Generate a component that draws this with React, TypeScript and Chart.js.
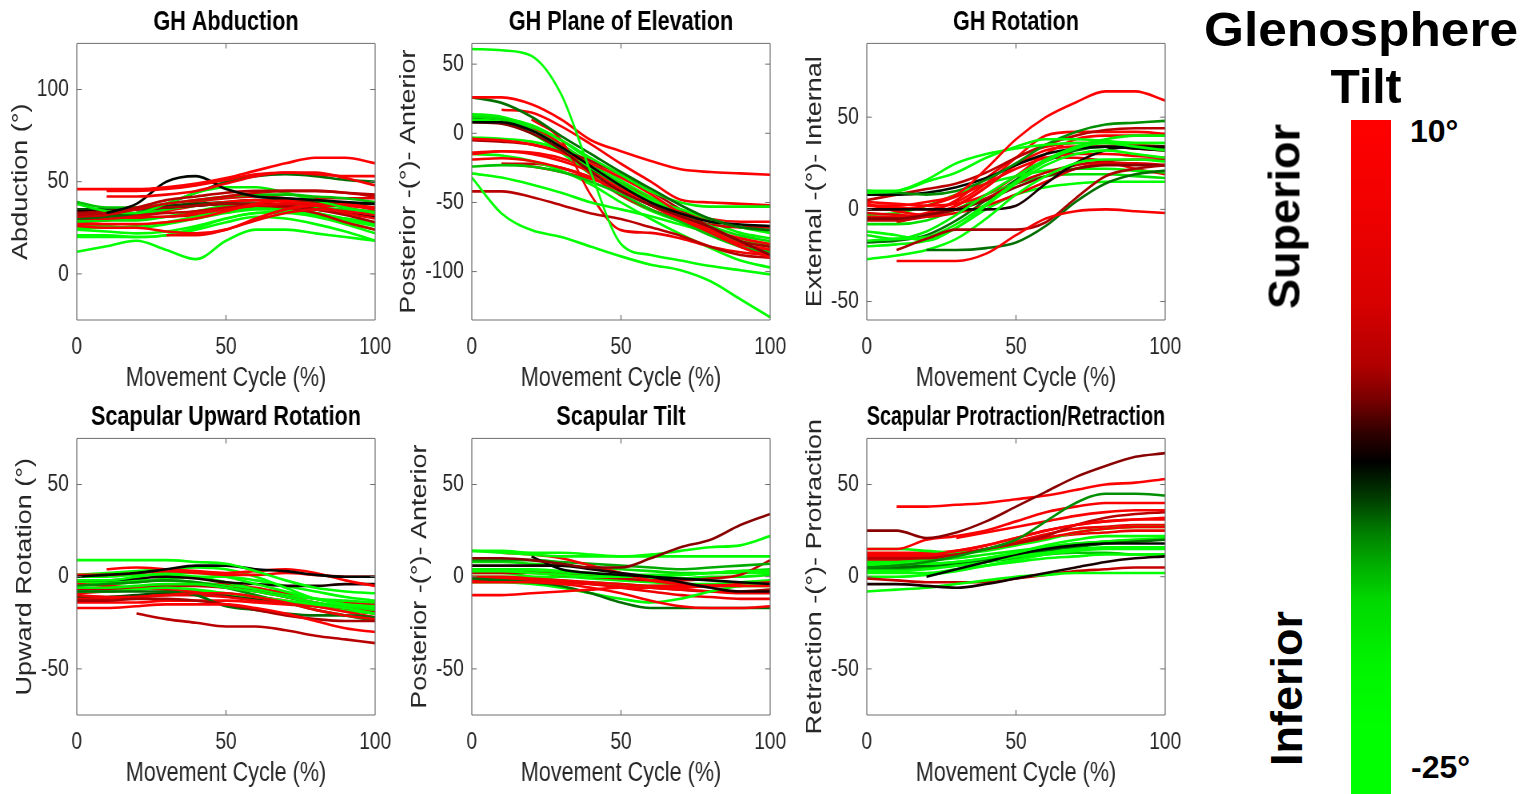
import { useEffect, useRef } from "react";
import { Chart, registerables } from "chart.js";

Chart.register(...registerables);

const FONT = '"Liberation Sans", Arial, Helvetica, sans-serif';

// ---------- shared data ----------
const cyclePct = [0, 10, 20, 30, 40, 50, 60, 70, 80, 90, 100];
const xTickValues = [0, 50, 100];
const xAxisLabel = "Movement Cycle (%)";

// Glenosphere tilt colour scale (10° at top, -25° at bottom)
const tiltMax = 10;
const tiltMin = -25;
const cmapPos = [0, 0.12, 0.27, 0.365, 0.415, 0.464, 0.507, 0.564, 0.613, 0.663, 0.712, 0.81, 0.9, 1];
const cmapColors = ["#ff0000", "#f20000", "#d80000", "#b00000", "#780000", "#300000", "#000000", "#004000", "#008000", "#00b000", "#00d800", "#00f500", "#00ff00", "#00ff00"];

// ---------- GH Abduction ----------
const abdTicks = [0, 50, 100];
const abdTilt = [10, 8, 6, -8, -2, 0, -14, -18, -24, -11, 9, 7, 5, 4, -3, -1, -22, -24, -21, -19, -17, -7, -16, 10, -10, 3, -20, 2];
const abdValues: (number | null)[][] = [
  [46, 46, 46, 47, 49, 52, 56, 60, 63, 63, 60],
  [null, 45, 45, 46, 48, 51, 54, 55, 54, 53, 53],
  [null, 42, 42, 43, 45, 49, 53, 55, 55, 52, 48],
  [null, 33, 38, 50, 53, 46, 42, 41, 40, 39, 38],
  [32, 33, 36, 40, 42, 44, 45, 45, 45, 44, 43],
  [31, 32, 35, 38, 40, 42, 44, 45, 45, 44, 42],
  [39, 36, 36, 38, 40, 42, 43, 43, 42, 41, 39],
  [38, 34, 33, 38, 44, 47, 47, 44, 40, 36, 33],
  [12, 15, 18, 13, 8, 18, 24, 24, 22, 20, 18],
  [30, 31, 33, 38, 44, 50, 53, 54, 53, 51, 50],
  [27, 27, 27, 28, 30, 34, 38, 40, 40, 38, 36],
  [26, 25, 25, 23, 22, 24, 30, 35, 37, 37, 35],
  [null, null, null, 21, 21, 24, 29, 33, 35, 34, 32],
  [30, 30, 31, 31, 33, 35, 37, 38, 37, 33, 30],
  [33, 34, 35, 36, 37, 38, 38, 37, 35, 32, 28],
  [32, 32, 32, 33, 34, 36, 37, 36, 33, 28, 24],
  [21, 21, 20, 21, 25, 30, 33, 34, 32, 29, 26],
  [20, 20, 20, 21, 24, 28, 31, 30, 27, 23, 18],
  [24, 23, 22, 23, 26, 30, 33, 33, 31, 27, 22],
  [27, 26, 25, 27, 30, 33, 35, 35, 33, 30, 27],
  [28, 29, 29, 31, 34, 37, 38, 36, 33, 30, 28],
  [34, 34, 35, 36, 37, 38, 38, 37, 35, 33, 31],
  [29, 30, 32, 35, 37, 38, 38, 37, 36, 35, 34],
  [28, 29, 31, 34, 37, 39, 40, 39, 38, 37, 36],
  [35, 35, 36, 37, 38, 39, 40, 40, 39, 38, 38],
  [31, 31, 33, 36, 39, 41, 42, 41, 39, 36, 33],
  [25, 25, 26, 28, 31, 34, 36, 35, 32, 28, 24],
  [29, 30, 30, 31, 32, 35, 38, 40, 41, 41, 41],
];

// ---------- GH Plane of Elevation ----------
const poeTicks = [-100, -50, 0, 50];
const poeTilt = [-22, -25, 10, -11, -18, 7, -8, -4, 9, -20, -3, 8, 6, -14, -23, -2, 5, 4, -16, -21, -10, 10, -24, 0, 8, -19];
const poeValues: (number | null)[][] = [
  [61, 60, 56, 28, -29, -80, -88, -92, -96, -99, -102],
  [-32, -58, -70, -75, -82, -89, -95, -99, -107, -120, -133],
  [26, 26, 21, 10, -5, -13, -20, -26, -28, -29, -30],
  [26, 22, 12, -2, -15, -28, -40, -52, -62, -68, -70],
  [14, 12, 5, -5, -18, -30, -42, -50, -53, -53, -53],
  [null, 17, 15, 5, -8, -22, -35, -48, -50, -51, -52],
  [8, 8, 2, -10, -24, -38, -50, -58, -64, -66, -67],
  [8, 7, 0, -12, -28, -42, -52, -60, -68, -78, -88],
  [-4, -5, -8, -14, -22, -32, -44, -58, -70, -80, -84],
  [-3, -4, -6, -12, -25, -38, -48, -55, -62, -68, -72],
  [-5, -6, -8, -13, -20, -30, -42, -55, -68, -78, -82],
  [-14, -13, -15, -20, -28, -40, -52, -62, -70, -76, -80],
  [-19, -18, -20, -25, -32, -42, -52, -62, -72, -82, -90],
  [-24, -23, -24, -28, -35, -44, -55, -64, -74, -82, -86],
  [-29, -32, -37, -43, -50, -55, -60, -66, -72, -78, -80],
  [-42, -42, -46, -52, -58, -62, -68, -74, -82, -88, -90],
  [null, null, 10, -5, -45, -70, -72, -76, -82, -86, -88],
  [null, null, 5, -8, -30, -45, -55, -63, -72, -80, -84],
  [12, 10, 4, -8, -22, -36, -48, -58, -67, -74, -78],
  [10, 8, 0, -14, -30, -45, -56, -64, -72, -78, -82],
  [11, 10, 3, -10, -26, -40, -52, -62, -72, -80, -85],
  [-15, -13, -14, -18, -26, -36, -48, -60, -72, -82, -88],
  [-15, -16, -20, -27, -37, -50, -62, -73, -83, -92, -97],
  [null, -22, -22, -25, -32, -42, -52, -60, -66, -68, -68],
  [null, -22, -24, -28, -33, -40, -48, -56, -62, -64, -64],
  [13, 11, 6, -5, -20, -34, -46, -56, -64, -72, -76],
];

// ---------- GH Rotation ----------
const rotTicks = [-50, 0, 50];
const rotTilt = [10, 8, -11, -3, -24, -22, -20, -18, -23, -21, -12, -8, -7, -2, -4, 9, 7, 6, 5, 10, 3, -1, -16, -19, -25, -11, 4];
const rotValues: (number | null)[][] = [
  [2, 2, 4, 8, 22, 38, 50, 58, 64, 64, 59],
  [null, -28, -28, -28, -24, -14, -5, -1, 0, -1, -2],
  [null, null, -22, -22, -21, -18, -9, 4, 14, 19, 21],
  [null, -22, -16, -11, -11, -11, -7, 6, 18, 22, 24],
  [-27, -25, -22, -16, -5, 8, 18, 25, 27, 27, 26],
  [-20, -19, -17, -10, 2, 14, 24, 30, 32, 30, 28],
  [-17, -16, -15, -8, 3, 15, 26, 33, 36, 34, 32],
  [-14, -16, -12, -3, 8, 18, 27, 34, 38, 40, 40],
  [9, 10, 16, 25, 30, 33, 35, 36, 36, 36, 36],
  [10, 10, 15, 20, 28, 34, 38, 38, 37, 36, 36],
  [10, 9, 8, 10, 16, 25, 35, 42, 46, 47, 48],
  [8, 8, 9, 12, 17, 24, 30, 33, 34, 33, 32],
  [0, 0, 0, 0, 0, 2, 14, 25, 32, 34, 34],
  [5, 8, 11, 14, 20, 28, 35, 40, 43, 44, 44],
  [-5, -5, -3, 0, 5, 12, 18, 22, 24, 24, 24],
  [4, 3, 2, 3, 8, 18, 30, 38, 40, 40, 40],
  [3, -1, -3, 2, 12, 24, 32, 34, 34, 33, 32],
  [0, 0, 2, 7, 14, 22, 28, 30, 30, 29, 28],
  [-4, -4, -2, 5, 17, 28, 34, 36, 36, 35, 34],
  [2, 1, 0, 4, 14, 28, 40, 42, 42, 42, 41],
  [-2, -3, -4, -2, 2, 8, 15, 22, 25, 25, 24],
  [-6, -6, -4, 0, 6, 14, 20, 24, 26, 27, 27],
  [-8, -8, -6, 0, 8, 14, 18, 19, 19, 18, 17],
  [-3, -2, 2, 8, 14, 18, 21, 22, 22, 21, 20],
  [-12, -14, -17, -10, 0, 8, 12, 14, 15, 15, 15],
  [-18, -17, -14, -6, 5, 16, 26, 32, 34, 34, 33],
  [null, -7, -3, 2, 12, 24, 28, 28, 26, 22, 19],
];

// ---------- Scapular Upward Rotation ----------
const uprTicks = [-50, 0, 50];
const uprTilt = [-25, -8, 10, 8, -2, 9, -3, 6, -11, -22, -20, -18, -23, -12, 7, 5, -7, -2, -24, -19, 10, -10, 3, -21];
const uprValues: (number | null)[][] = [
  [9, 9, 9, 9, 8, 7, 3, -2, -6, -8, -9],
  [0, 1, 2, 4, 6, 6, 4, 3, 1, 0, 0],
  [null, 4, 5, 4, 3, 2, 3, 4, 2, -2, -5],
  [1, 1, 2, 3, 2, 1, 1, 2, 1, 0, 0],
  [null, null, -20, -23, -25, -27, -27, -29, -32, -34, -36],
  [-17, -17, -16, -15, -15, -15, -17, -20, -24, -28, -30],
  [-13, -13, -12, -12, -13, -15, -18, -21, -23, -24, -24],
  [-10, -11, -11, -10, -9, -9, -11, -14, -18, -21, -23],
  [-8, -8, -8, -8, -10, -16, -18, -20, -21, -21, -22],
  [1, 2, 3, 4, 5, 4, 0, -6, -12, -15, -16],
  [-2, -2, 0, 2, 2, 0, -4, -8, -12, -15, -17],
  [-6, -6, -5, -4, -4, -6, -8, -11, -14, -16, -18],
  [-8, -8, -7, -6, -7, -9, -11, -13, -15, -17, -20],
  [-5, -4, -3, -2, -3, -6, -10, -14, -18, -21, -24],
  [-4, -5, -6, -7, -8, -9, -11, -13, -16, -19, -22],
  [-12, -12, -11, -10, -10, -11, -13, -14, -15, -17, -18],
  [-2, -2, -1, 0, -1, -3, -4, -5, -5, -4, -4],
  [-7, -7, -6, -5, -5, -6, -8, -11, -14, -17, -19],
  [0, 0, 1, 1, 0, -3, -7, -11, -15, -18, -20],
  [-3, -3, -2, -2, -3, -5, -7, -10, -12, -13, -14],
  [-14, -14, -14, -13, -13, -13, -14, -15, -16, -18, -20],
  [-11, -11, -10, -9, -9, -10, -12, -14, -16, -18, -20],
  [-9, -8, -7, -5, -4, -4, -6, -9, -12, -14, -15],
  [-4, -4, -3, -1, 0, 0, -2, -5, -8, -11, -13],
];

// ---------- Scapular Tilt ----------
const tiltTicks = [-50, 0, 50];
const stTilt = [-4, -24, -20, -8, -7, 10, 8, -11, -22, 9, -21, -13, 6, -1, -18, 5, -25, 7, -16, -19, -3, -23];
const stValues: (number | null)[][] = [
  [10, 10, 9, 7, 5, 5, 10, 16, 20, 28, 34],
  [14, 14, 13, 13, 12, 11, 12, 14, 16, 17, 22],
  [14, 13, 12, 11, 11, 11, 11, 11, 11, 11, 11],
  [null, null, 11, 4, 2, 1, 0, -1, -2, -3, -4],
  [6, 6, 6, 6, 4, 2, 0, -3, -6, -8, -8],
  [-10, -10, -9, -8, -7, -6, -6, -6, -5, -5, -5],
  [-3, -3, -3, -4, -6, -9, -13, -16, -17, -17, -16],
  [-1, -2, -3, -5, -9, -14, -17, -17, -17, -17, -17],
  [-3, -3, -4, -6, -9, -12, -14, -12, -8, -5, -4],
  [null, 13, 12, 10, 6, 2, -2, -4, -5, -5, -4],
  [3, 3, 2, 1, 0, 0, 0, 1, 2, 3, 3],
  [9, 9, 9, 8, 7, 6, 5, 4, 5, 6, 7],
  [0, 0, -1, -2, -3, -4, -5, -5, -5, -4, -3],
  [2, 2, 2, 1, 0, -1, -2, -2, -1, 1, 9],
  [4, 4, 3, 2, 1, 0, -1, -1, 0, 0, 1],
  [-2, -2, -2, -3, -4, -6, -8, -10, -11, -12, -12],
  [2, 2, 0, -2, -3, -4, -5, -5, -5, -5, -5],
  [-1, -1, -2, -3, -4, -5, -6, -7, -8, -9, -9],
  [8, 8, 7, 6, 5, 4, 3, 2, 2, 3, 4],
  [0, 0, 0, 0, -1, -2, -3, -4, -4, -3, -2],
  [-2, -2, -2, -3, -4, -5, -6, -7, -8, -8, -7],
  [null, 4, 4, 3, 2, 1, 1, 1, 2, 2, 2],
];

// ---------- Scapular Protraction/Retraction ----------
const proTicks = [-50, 0, 50];
const proTilt = [-4, 10, -12, 9, 8, 7, -2, 6, -20, -22, -8, -7, -25, -1, -21, -23, -11, -18, 4, -24, 10, -19, -14, 5];
const proValues: (number | null)[][] = [
  [25, 25, 21, 24, 30, 38, 46, 54, 60, 65, 67],
  [null, 38, 38, 39, 40, 42, 44, 47, 50, 51, 53],
  [5, 6, 8, 11, 15, 20, 30, 40, 45, 45, 44],
  [null, null, null, 21, 24, 27, 30, 33, 35, 36, 36],
  [15, 15, 20, 22, 25, 30, 35, 38, 40, 40, 40],
  [12, 12, 12, 14, 17, 21, 25, 28, 30, 31, 31],
  [10, 10, 10, 12, 15, 18, 22, 28, 32, 34, 35],
  [11, 11, 11, 12, 15, 18, 21, 24, 26, 27, 27],
  [15, 15, 14, 13, 14, 17, 20, 24, 26, 27, 27],
  [7, 7, 7, 8, 10, 13, 17, 20, 22, 22, 22],
  [null, null, 0, 4, 8, 12, 15, 17, 18, 18, 18],
  [-4, -4, -5, -6, -4, -1, 2, 5, 8, 10, 11],
  [-8, -7, -6, -4, -2, 0, 1, 2, 2, 2, 2],
  [-1, -2, -3, -3, -3, -1, 1, 3, 4, 5, 5],
  [3, 3, 4, 6, 8, 11, 13, 15, 16, 16, 16],
  [0, 0, 1, 3, 6, 9, 12, 14, 15, 15, 15],
  [5, 5, 6, 7, 9, 12, 14, 16, 18, 19, 20],
  [8, 8, 9, 10, 12, 14, 16, 18, 19, 20, 21],
  [9, 9, 10, 12, 15, 18, 21, 23, 24, 25, 25],
  [2, 2, 2, 4, 6, 8, 10, 11, 12, 12, 12],
  [13, 13, 13, 14, 17, 21, 25, 28, 30, 31, 32],
  [6, 6, 7, 8, 10, 13, 16, 18, 19, 20, 20],
  [4, 4, 5, 6, 8, 10, 12, 13, 13, 12, 12],
  [11, 11, 12, 13, 15, 19, 23, 26, 27, 28, 28],
];

// ---------- helpers ----------
function hexToRgb(h: string) {
  return [parseInt(h.slice(1, 3), 16), parseInt(h.slice(3, 5), 16), parseInt(h.slice(5, 7), 16)];
}
function tiltColor(t: number) {
  const f = Math.min(1, Math.max(0, (tiltMax - t) / (tiltMax - tiltMin)));
  for (let i = 0; i < cmapPos.length - 1; i++) {
    if (f >= cmapPos[i] && f <= cmapPos[i + 1]) {
      const u = (f - cmapPos[i]) / (cmapPos[i + 1] - cmapPos[i] || 1);
      const a = hexToRgb(cmapColors[i]);
      const b = hexToRgb(cmapColors[i + 1]);
      const c = a.map((v, k) => Math.round(v + (b[k] - v) * u));
      return `rgb(${c[0]},${c[1]},${c[2]})`;
    }
  }
  return cmapColors[cmapColors.length - 1];
}

const SX = 0.8; // horizontal compression of the figure
const CW = 502;
const CH = 395;

const boxPlugin = {
  id: "matlabBox",
  afterDraw(chart: any) {
    const { ctx, chartArea: a } = chart;
    const x = chart.scales.x;
    const y = chart.scales.y;
    ctx.save();
    ctx.strokeStyle = "#6e6e6e";
    ctx.lineWidth = 1;
    ctx.beginPath();
    ctx.moveTo(a.left, a.top);
    ctx.lineTo(a.right, a.top);
    ctx.moveTo(a.left, a.bottom);
    ctx.lineTo(a.right, a.bottom);
    const tl = 5;
    y.ticks.forEach((t: any) => {
      const py = y.getPixelForValue(t.value);
      ctx.moveTo(a.left, py);
      ctx.lineTo(a.left + tl / SX, py);
      ctx.moveTo(a.right, py);
      ctx.lineTo(a.right - tl / SX, py);
    });
    ctx.stroke();
    ctx.lineWidth = 1 / SX;
    ctx.beginPath();
    ctx.moveTo(a.left, a.top);
    ctx.lineTo(a.left, a.bottom);
    ctx.moveTo(a.right, a.top);
    ctx.lineTo(a.right, a.bottom);
    x.ticks.forEach((t: any) => {
      const px = x.getPixelForValue(t.value);
      ctx.moveTo(px, a.bottom);
      ctx.lineTo(px, a.bottom - tl);
      ctx.moveTo(px, a.top);
      ctx.lineTo(px, a.top + tl);
    });
    ctx.stroke();
    ctx.restore();
  },
};

type PanelCfg = {
  title: string;
  yLabel: string;
  yMin: number;
  yMax: number;
  yTicks: number[];
  values: (number | null)[][];
  tilt: number[];
  left: number;
  top: number;
  yTitlePad: number;
};

const panels: PanelCfg[] = [
  { title: "GH Abduction", yLabel: "Abduction (°)", yMin: -25, yMax: 125, yTicks: abdTicks, values: abdValues, tilt: abdTilt, left: 0, top: 0, yTitlePad: 10 },
  { title: "GH Plane of Elevation", yLabel: "Posterior -(°)- Anterior", yMin: -135, yMax: 65, yTicks: poeTicks, values: poeValues, tilt: poeTilt, left: 395, top: 0, yTitlePad: 1.5 },
  { title: "GH Rotation", yLabel: "External -(°)- Internal", yMin: -60, yMax: 90, yTicks: rotTicks, values: rotValues, tilt: rotTilt, left: 790, top: 0, yTitlePad: 15 },
  { title: "Scapular Upward Rotation", yLabel: "Upward Rotation (°)", yMin: -75, yMax: 75, yTicks: uprTicks, values: uprValues, tilt: uprTilt, left: 0, top: 395, yTitlePad: 15 },
  { title: "Scapular Tilt", yLabel: "Posterior -(°)- Anterior", yMin: -75, yMax: 75, yTicks: tiltTicks, values: stValues, tilt: stTilt, left: 395, top: 395, yTitlePad: 15.5 },
  { title: "Scapular Protraction/Retraction", yLabel: "Retraction -(°)- Protraction", yMin: -75, yMax: 75, yTicks: proTicks, values: proValues, tilt: proTilt, left: 790, top: 395, yTitlePad: 15 },
];

function Panel({ cfg }: { cfg: PanelCfg }) {
  const ref = useRef<HTMLCanvasElement>(null);
  useEffect(() => {
    const canvas = ref.current!;
    const chart = new Chart(canvas, {
      type: "line",
      data: {
        datasets: cfg.values.map((row, i) => ({
          data: row.map((v, j) => ({ x: cyclePct[j], y: v })),
          borderColor: tiltColor(cfg.tilt[i]),
          backgroundColor: tiltColor(cfg.tilt[i]),
          borderWidth: 2.6,
          pointRadius: 0,
          fill: false,
          cubicInterpolationMode: "monotone",
          spanGaps: false,
        })) as any,
      },
      options: {
        responsive: false,
        animation: false,
        devicePixelRatio: 1,
        events: [],
        layout: { padding: { left: 0, right: 33, top: 0, bottom: 0 } },
        plugins: {
          legend: { display: false },
          tooltip: { enabled: false },
          title: {
            display: true,
            text: cfg.title,
            fullSize: false,
            color: "#000000",
            font: { family: FONT, size: 27, weight: "bold" },
            padding: { top: 6.5, bottom: 4.5 },
          },
        },
        scales: {
          x: {
            type: "linear",
            min: 0,
            max: 100,
            afterBuildTicks: (s: any) => {
              s.ticks = xTickValues.map((v) => ({ value: v }));
            },
            afterFit: (s: any) => {
              s.height = 75;
            },
            grid: { display: false, drawTicks: false },
            border: { display: false },
            ticks: { padding: 13, color: "#262626", font: { family: FONT, size: 24 }, maxRotation: 0, autoSkip: false },
            title: { display: true, text: xAxisLabel, color: "#262626", font: { family: FONT, size: 27 }, padding: { top: 0, bottom: 0 } },
          },
          y: {
            type: "linear",
            min: cfg.yMin,
            max: cfg.yMax,
            afterBuildTicks: (s: any) => {
              s.ticks = cfg.yTicks.map((v) => ({ value: v }));
            },
            afterFit: (s: any) => {
              s.width = 96;
            },
            grid: { display: false, drawTicks: false },
            border: { display: false },
            ticks: { padding: 10, color: "#262626", font: { family: FONT, size: 24 }, autoSkip: false },
            title: { display: true, text: cfg.yLabel, color: "#262626", font: { family: FONT, size: 27 }, padding: { top: cfg.yTitlePad, bottom: 0 } },
          },
        },
      } as any,
      plugins: [boxPlugin],
    });
    return () => chart.destroy();
  }, [cfg]);
  return (
    <canvas
      ref={ref}
      width={CW}
      height={CH}
      style={{ position: "absolute", left: cfg.left, top: cfg.top, width: CW, height: CH, transform: `scaleX(${SX})`, transformOrigin: "0 0" }}
    />
  );
}

const gradientCss = `linear-gradient(to bottom, ${cmapColors.map((c, i) => `${c} ${(cmapPos[i] * 100).toFixed(1)}%`).join(", ")})`;

export default function App() {
  useEffect(() => {
    document.body.style.margin = "0";
    document.body.style.overflow = "hidden";
  }, []);
  const bold = (size: number) => ({ fontFamily: FONT, fontWeight: 700 as const, fontSize: size, lineHeight: `${size}px`, whiteSpace: "nowrap" as const, color: "#000" });
  return (
    <div style={{ position: "fixed", left: 0, top: 0, width: 1522, height: 794, background: "#ffffff", overflow: "hidden" }}>
      {panels.map((p, i) => (
        <Panel key={i} cfg={p} />
      ))}
      <div style={{ position: "absolute", left: 1191, top: 6, width: 340, textAlign: "center", transform: "scaleX(1.07)", ...bold(48) }}>Glenosphere</div>
      <div style={{ position: "absolute", left: 1196, top: 63, width: 340, textAlign: "center", ...bold(48) }}>Tilt</div>
      <div style={{ position: "absolute", left: 1351, top: 120, width: 40, height: 674, background: gradientCss }} />
      <div style={{ position: "absolute", left: 1410, top: 115, ...bold(32) }}>10°</div>
      <div style={{ position: "absolute", left: 1411, top: 751, ...bold(32) }}>-25°</div>
      <div style={{ position: "absolute", left: 1284 - 150, top: 216 - 22.5, width: 300, height: 45, textAlign: "center", transform: "rotate(-90deg)", ...bold(45) }}>Superior</div>
      <div style={{ position: "absolute", left: 1286 - 150, top: 688 - 22.5, width: 300, height: 45, textAlign: "center", transform: "rotate(-90deg)", ...bold(45) }}>Inferior</div>
    </div>
  );
}
